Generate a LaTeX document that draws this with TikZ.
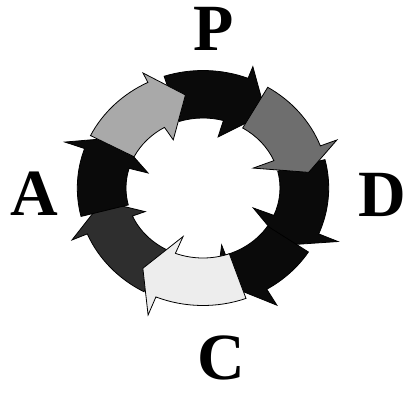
\documentclass[tikz,border=0pt]{standalone}
\usepackage{fontspec}
\setmainfont{Liberation Serif}
\definecolor{ringblack}{HTML}{0A0A0A}
\definecolor{ringlight}{HTML}{A9A9A9}
\definecolor{ringmid}{HTML}{6E6E6E}
\definecolor{ringwhite}{HTML}{EDEDED}
\definecolor{ringdark}{HTML}{2E2E2E}
% #1 colour, #2 tail angle, #3 outer barb angle, #4 outer barb radius,
% #5 inner barb angle, #6 inner barb radius, #7 tip angle, #8 tip radius
\newcommand\ringarrow[8]{%
  \fill[#1, draw=black, line width=0.8pt, line join=miter]
    ({203+125.7*cos(#2)},{-188+117.5*sin(#2)})
    arc[start angle=#2, end angle=#3, x radius=125.7, y radius=117.5]
    -- ({203+1.07*#4*cos(#3)},{-188+#4*sin(#3)})
    -- ({203+1.07*#8*cos(#7)},{-188+#8*sin(#7)})
    -- ({203+1.07*#6*cos(#5)},{-188+#6*sin(#5)})
    -- ({203+77*cos(#5)},{-188+70*sin(#5)})
    arc[start angle=#5, end angle=#2, x radius=77, y radius=70]
    -- cycle;}
\tikzset{
  letter/.style={font=\fontsize{66}{66}\selectfont\bfseries, inner sep=0pt, text=black}
}
\begin{document}
\begin{tikzpicture}[x=1pt,y=1pt]
\useasboundingbox (0,0) rectangle (407,-392);
% ring of arrows (drawing order sets which heads lie on top)
\ringarrow{ringblack}{108}{69}{130}{74.6}{53}{52}{95}
\ringarrow{ringblack}{14}{-23}{137}{-23}{51}{-37}{95}
\ringarrow{ringblack}{-33}{-59.5}{136}{-73}{59.6}{-82}{94}
\ringarrow{ringdark}{-118}{-157}{133}{-156.4}{59}{-172}{95}
\ringarrow{ringblack}{-166}{-199.6}{137}{-196.3}{53.5}{-212}{95}
\ringarrow{ringlight}{153.5}{116}{128}{120}{55.6}{100}{94.5}
\ringarrow{ringmid}{59}{21}{134}{23}{51}{9}{100}
\ringarrow{ringwhite}{-70}{-112}{137}{-111}{52}{-125}{98}
% letters
\node[letter] (P) at (214,-29) {P};
\node[letter] (D) at (382,-195) {D};
\node[letter] (C) at (221,-358) {C};
\node[letter] (A) at (34,-194) {A};
\end{tikzpicture}
\end{document}
